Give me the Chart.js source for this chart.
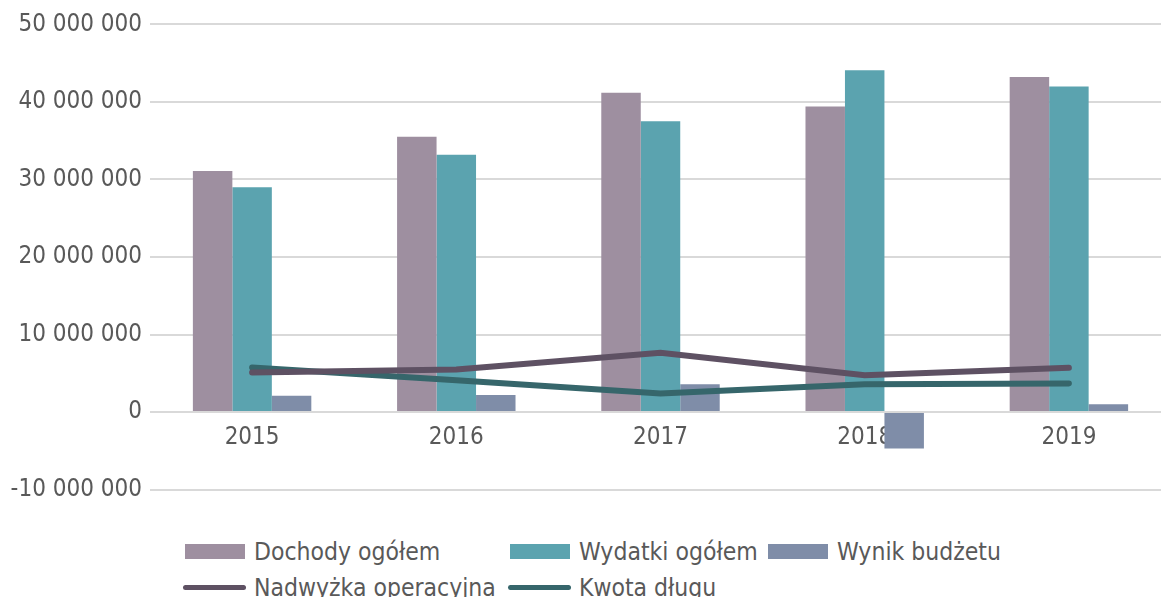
<!DOCTYPE html>
<html>
<head>
<meta charset="utf-8">
<script src="https://cdn.jsdelivr.net/npm/chart.js@4"></script>
<style>
  html, body { margin: 0; padding: 0; background: #fff; overflow: hidden; width: 1161px; height: 597px; }
  #wrap { position: relative; width: 1171px; height: 597px; }
  #wrap canvas { position: absolute; left: 0; top: 2px; }
  .leg { position: absolute; display: flex; align-items: center; font-family: "DejaVu Sans Condensed", "DejaVu Sans", sans-serif; font-size: 24.5px; color: #595959; white-space: nowrap; }
  .leg .mk { width: 60px; margin-right: 9px; }
</style>
</head>
<body>
<div id="wrap">
  <canvas id="budget" width="1171" height="510"></canvas>
  <div id="legend"></div>
</div>
<script>
// years
var years = ["2015", "2016", "2017", "2018", "2019"]
// series (PLN)
var dochody = [31100000, 35500000, 41200000, 39400000, 43200000]
var wydatki = [29000000, 33200000, 37500000, 44100000, 42000000]
var wynik = [2100000, 2200000, 3600000, -4700000, 1000000]
var nadwyzka = [5100000, 5500000, 7650000, 4750000, 5700000]
var kwota = [5750000, 4100000, 2400000, 3600000, 3700000]

var fontFamily = '"DejaVu Sans Condensed", "DejaVu Sans", sans-serif'
var textColor = '#595959'

function fmt(v) {
  var s = Math.abs(v).toString().replace(/\B(?=(\d{3})+(?!\d))/g, ' ')
  return (v < 0 ? '-' : '') + s
}

var ctx = document.getElementById('budget').getContext('2d')
var chart = new Chart(ctx, {
  data: {
    labels: years,
    datasets: [
      { type: 'line', label: 'Nadwyżka operacyjna', data: nadwyzka, borderColor: '#5E5163', borderWidth: 6, pointRadius: 0, borderCapStyle: 'round', tension: 0, order: 0 },
      { type: 'line', label: 'Kwota długu', data: kwota, borderColor: '#36666B', borderWidth: 6, pointRadius: 0, borderCapStyle: 'round', tension: 0, order: 1 },
      { type: 'bar', label: 'Dochody ogółem', data: dochody, backgroundColor: '#9E8FA0', order: 2 },
      { type: 'bar', label: 'Wydatki ogółem', data: wydatki, backgroundColor: '#5BA3AF', order: 3 },
      { type: 'bar', label: 'Wynik budżetu', data: wynik, backgroundColor: '#7F8DA8', order: 4 }
    ]
  },
  options: {
    responsive: false,
    animation: false,
    layout: { padding: { top: 14, bottom: 8, left: 0, right: 0 } },
    datasets: { bar: { barPercentage: 1.0, categoryPercentage: 0.58 } },
    plugins: { legend: { display: false }, tooltip: { enabled: false } },
    scales: {
      x: {
        position: { y: 0 },
        grid: { display: false },
        border: { display: false },
        ticks: { color: textColor, font: { family: fontFamily, size: 24 }, padding: 3 }
      },
      y: {
        min: -10000000,
        max: 50000000,
        ticks: { stepSize: 10000000, color: textColor, font: { family: fontFamily, size: 24 }, padding: 8, callback: function (v) { return fmt(v) } },
        grid: { color: '#D9D9D9', lineWidth: 2, drawTicks: false },
        border: { display: false },
        afterFit: function (scale) { scale.width = 150 }
      }
    }
  }
})

// legend built from the chart datasets
var legendPos = {
  'Dochody ogółem': [185, 551],
  'Wydatki ogółem': [510, 551],
  'Wynik budżetu': [768, 551],
  'Nadwyżka operacyjna': [183, 587],
  'Kwota długu': [508, 587]
}
var legendEl = document.getElementById('legend')
chart.data.datasets.forEach(function (ds) {
  var p = legendPos[ds.label]
  var item = document.createElement('div')
  item.className = 'leg'
  item.style.left = p[0] + 'px'
  item.style.top = (p[1] - 15) + 'px'
  item.style.height = '30px'
  var mk = document.createElement('span')
  mk.className = 'mk'
  if (ds.type === 'bar') {
    mk.style.height = '15px'
    mk.style.background = ds.backgroundColor
  } else {
    mk.style.width = '63px'
    mk.style.height = '5px'
    mk.style.borderRadius = '3px'
    mk.style.background = ds.borderColor
    mk.style.marginRight = '8px'
  }
  var tx = document.createElement('span')
  tx.textContent = ds.label
  item.appendChild(mk)
  item.appendChild(tx)
  legendEl.appendChild(item)
})
</script>
</body>
</html>
